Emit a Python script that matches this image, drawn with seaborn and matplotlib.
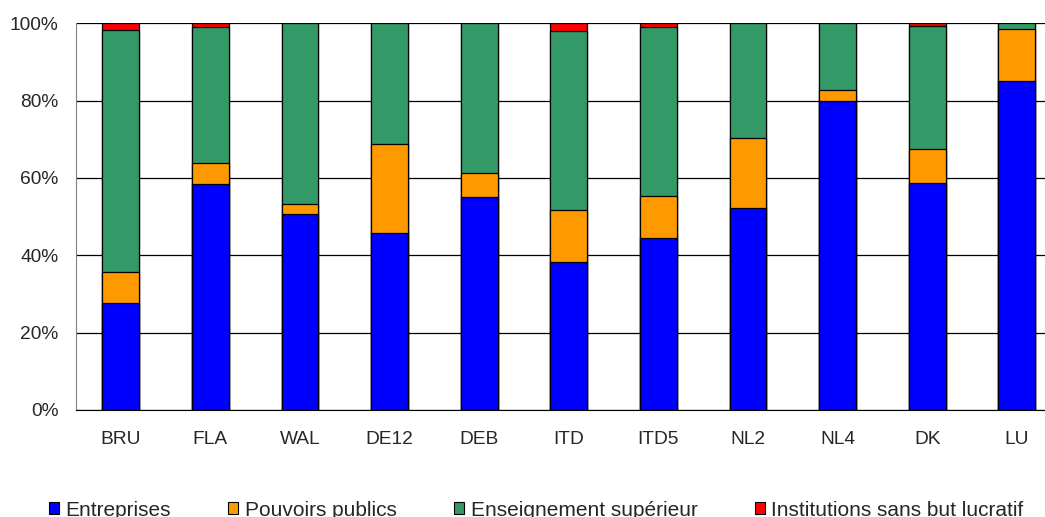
import numpy as np
import pandas as pd
import matplotlib
matplotlib.use("Agg")
import matplotlib.pyplot as plt
import seaborn as sns
from matplotlib.patches import Patch

# share of R&D by sector (%)
regions = ["BRU", "FLA", "WAL", "DE12", "DEB", "ITD", "ITD5", "NL2", "NL4", "DK", "LU"]
entreprises = [27.6, 58.5, 50.7, 45.9, 55.2, 38.3, 44.5, 52.2, 80.0, 58.7, 85.2]
pouvoirs_publics = [8.2, 5.5, 2.6, 23.0, 6.2, 13.4, 10.9, 18.2, 2.7, 8.7, 13.2]
enseignement_sup = [62.4, 35.0, 46.7, 31.1, 38.6, 46.3, 43.6, 29.6, 17.3, 32.0, 1.6]
institutions_sbl = [1.8, 1.0, 0.0, 0.0, 0.0, 2.0, 1.0, 0.0, 0.0, 0.6, 0.0]

series_names = ["Entreprises", "Pouvoirs publics", "Enseignement supérieur",
                "Institutions sans but lucratif"]
colors = ["#0000FF", "#FF9900", "#339966", "#FF0000"]

sns.set_style("white")
plt.rcParams["font.family"] = ["Liberation Sans", "DejaVu Sans"]

df = pd.DataFrame({
    "Region": regions,
    series_names[0]: entreprises,
    series_names[1]: pouvoirs_publics,
    series_names[2]: enseignement_sup,
    series_names[3]: institutions_sbl,
})
# cumulative tops for stacking
cum = df[series_names].cumsum(axis=1)

fig = plt.figure(figsize=(10.45, 5.17), dpi=100)
ax = fig.add_axes([76 / 1045, 107 / 517, 985.6 / 1045, 386.7 / 517])

# draw tallest stack first so lower segments sit on top
for name, col in reversed(list(zip(series_names, colors))):
    sns.barplot(x=df["Region"], y=cum[name], color=col, saturation=1,
                width=0.41, edgecolor="black", linewidth=0.9, ax=ax)

ax.set_xlim(-0.5, len(regions) - 0.5)
ax.set_ylim(0, 100)
ax.set_yticks([0, 20, 40, 60, 80, 100])
ax.set_yticklabels([f"{v}%" for v in [0, 20, 40, 60, 80, 100]])
ax.set_axisbelow(True)
ax.yaxis.grid(True, color="black", linewidth=0.9)
ax.set_xlabel("")
ax.set_ylabel("")

for s in ["top", "right"]:
    ax.spines[s].set_visible(False)
ax.spines["left"].set_color("#808080")
ax.spines["bottom"].set_color("black")

ax.set_xticks(np.arange(-0.5, len(regions)), minor=True)
ax.tick_params(axis="x", which="major", length=0, pad=15, labelsize=13.8)
ax.tick_params(axis="x", which="minor", length=6, color="#404040", width=0.9)
ax.tick_params(axis="y", length=6, color="#404040", width=0.9, pad=6.5, labelsize=13.8)

handles = [Patch(facecolor=c, edgecolor="black", linewidth=0.8) for c in colors]
fig.legend(handles, series_names, loc="center", bbox_to_anchor=(0.513, 0.013),
           ncol=4, frameon=False, fontsize=15, handlelength=0.5, handleheight=0.5,
           handletextpad=0.3, columnspacing=2.75)

fig.savefig("out.png", dpi=100)
